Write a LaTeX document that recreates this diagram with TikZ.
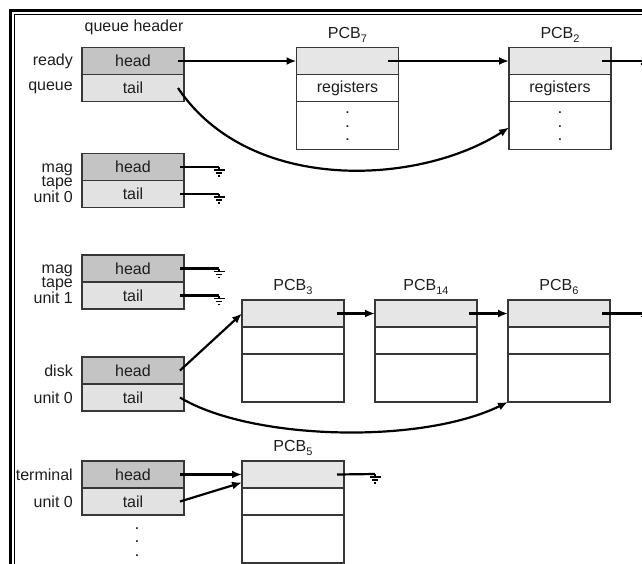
\documentclass[tikz,border=0pt]{standalone}
\usepackage{fontspec}
\setmainfont{Liberation Sans}
\usetikzlibrary{
  arrows.meta,
  positioning
}
\definecolor{HeadGray}{RGB}{196,196,196}
\definecolor{TailGray}{RGB}{226,226,226}
\definecolor{TopGray}{RGB}{230,230,230}
\definecolor{EdgeGray}{RGB}{55,55,55}
\definecolor{InkGray}{RGB}{30,30,30}
\newcommand{\qfont}{\fontsize{16}{14.5}\selectfont}
\newcommand{\dotfont}{\fontsize{12}{13.5}\selectfont\bfseries}
\newcommand{\pcbsub}[1]{\raisebox{-4pt}{\fontsize{11}{11}\selectfont #1}}
\tikzset{
  headcell/.style={draw=EdgeGray,fill=HeadGray,line width=1.6pt,outer sep=0pt,inner sep=0pt,minimum width=102pt,minimum height=27pt,align=center,font=\qfont,text=InkGray},
  tailcell/.style={headcell,fill=TailGray},
  pcbtop/.style={headcell,fill=TopGray},
  pcbmid/.style={headcell,fill=white},
  pcblow/.style={headcell,fill=white,minimum height=48pt},
  dotstack/.style={font=\dotfont,align=center,inner sep=0pt,text=InkGray},
  sidelabel/.style={anchor=east,align=right,font=\qfont,text=InkGray,inner sep=0pt},
  pcblabel/.style={font=\qfont,text=InkGray,inner sep=0pt},
  ptr/.style={-{Latex[length=10pt,width=8pt]},line width=2.2pt,draw=black},
  wire/.style={line width=2.2pt,draw=black},
  earth/.pic={\draw[line width=1.6pt] (0,0) -- (0,3) (-5.5,3) -- (5.5,3) (-3,6) -- (3,6) (-1.2,9) -- (1.2,9);}
}

\begin{document}
\begin{tikzpicture}[x=1pt,y=-1pt]
\useasboundingbox (0,0) rectangle (642,563);
\clip (0,0) rectangle (642,563);
% frame
\draw[line width=3.5pt] (10.5,570) -- (10.5,10.5) -- (650,10.5);
\draw[line width=1.4pt] (14.5,570) -- (14.5,14.5) -- (650,14.5);
% queue headers
\node[pcblabel] (qh) at (134,27) {queue header};
\node[headcell] (rh) at (133,61) {head};
\node[tailcell, below=0pt of rh] (rt) {tail};
\node[headcell] (m0h) at (133,167) {head};
\node[tailcell, below=0pt of m0h] (m0t) {tail};
\node[headcell] (m1h) at (133,268.5) {head};
\node[tailcell, below=0pt of m1h] (m1t) {tail};
\node[headcell] (dh) at (133,370.5) {head};
\node[tailcell, below=0pt of dh] (dt) {tail};
\node[headcell] (th) at (133,474.5) {head};
\node[tailcell, below=0pt of th] (tt) {tail};
\node[dotstack] (tdots) at (137,542) {.\\.\\.};
% device names
\node[sidelabel] (lready) at (73,61) {ready};
\node[sidelabel] (lqueue) at (73,88) {queue};
\node[sidelabel] (lmag0) at (73,183) {mag\\tape\\unit 0};
\node[sidelabel] (lmag1) at (73,284) {mag\\tape\\unit 1};
\node[sidelabel] (ldisk) at (73,371) {disk};
\node[sidelabel] (ldunit) at (73,398) {unit 0};
\node[sidelabel] (lterm) at (73,474.5) {terminal};
\node[sidelabel] (ltunit) at (73,501.5) {unit 0};
% ready queue PCBs
\node[pcbtop] (p7a) at (347.5,61) {};
\node[pcbmid, below=0pt of p7a] (p7b) {registers};
\node[pcblow, below=0pt of p7b] (p7c) {};
\node[dotstack] (p7d) at ([yshift=-1pt]p7c.center) {.\\.\\.};
\node[pcblabel, above=5pt of p7a] (l7) {PCB\pcbsub{7}};
\node[pcbtop] (p2a) at (560,61) {};
\node[pcbmid, below=0pt of p2a] (p2b) {registers};
\node[pcblow, below=0pt of p2b] (p2c) {};
\node[dotstack] (p2d) at ([yshift=-1pt]p2c.center) {.\\.\\.};
\node[pcblabel, above=5pt of p2a] (l2) {PCB\pcbsub{2}};
% disk queue PCBs
\node[pcbtop] (p3a) at (293,313.5) {};
\node[pcbmid, below=0pt of p3a] (p3b) {};
\node[pcblow, below=0pt of p3b] (p3c) {};
\node[pcblabel, above=5pt of p3a] (l3) {PCB\pcbsub{3}};
\node[pcbtop, right=31pt of p3a] (p14a) {};
\node[pcbmid, below=0pt of p14a] (p14b) {};
\node[pcblow, below=0pt of p14b] (p14c) {};
\node[pcblabel, above=5pt of p14a] (l14) {PCB\pcbsub{14}};
\node[pcbtop, right=31pt of p14a] (p6a) {};
\node[pcbmid, below=0pt of p6a] (p6b) {};
\node[pcblow, below=0pt of p6b] (p6c) {};
\node[pcblabel, above=5pt of p6a] (l6) {PCB\pcbsub{6}};
% terminal queue PCB
\node[pcbtop] (p5a) at (293,474.5) {};
\node[pcbmid, below=0pt of p5a] (p5b) {};
\node[pcblow, below=0pt of p5b] (p5c) {};
\node[pcblabel, above=5pt of p5a] (l5) {PCB\pcbsub{5}};
% null ends
\coordinate (g2) at (646,61);
\coordinate (g0h) at (219,167);
\coordinate (g0t) at (219,194);
\coordinate (g1h) at (219,268.5);
\coordinate (g1t) at (219,295.5);
\coordinate (g6) at (646,313.5);
\coordinate (g5) at (375,474);
% links
\draw[ptr] ([xshift=-6pt]rh.east) -- (p7a.west);
\draw[ptr] ([xshift=-11pt]p7a.east) -- (p2a.west);
\draw[ptr] ([xshift=-6pt]rt.east) .. controls (250,195) and (420,185) .. ([yshift=-2pt]p2c.west);
\draw[wire] ([xshift=-9pt]p2a.east) -- (g2);
\draw[wire] ([xshift=-4pt]m0h.east) -- (g0h);
\draw[wire] ([xshift=-4pt]m0t.east) -- (g0t);
\draw[wire] ([xshift=-4pt]m1h.east) -- (g1h);
\draw[wire] ([xshift=-4pt]m1t.east) -- (g1t);
\draw[ptr] ([xshift=-4pt]dh.east) -- (p3a.west);
\draw[ptr] ([xshift=-4pt]dt.east) .. controls (250,440) and (420,445) .. (p6c.south west);
\draw[ptr] ([xshift=-7pt]p3a.east) -- (p14a.west);
\draw[ptr] ([xshift=-8pt]p14a.east) -- (p6a.west);
\draw[wire] ([xshift=-8pt]p6a.east) -- (g6);
\draw[ptr] ([xshift=-4pt]th.east) -- (p5a.west);
\draw[ptr] ([xshift=-4pt]tt.east) -- ([yshift=-8pt]p5a.west);
\draw[wire] ([xshift=-7pt]p5a.east) -- (g5);
\foreach \g in {g2,g0h,g0t,g1h,g1t,g6,g5}
  \pic at (\g) {earth};
\end{tikzpicture}
\end{document}
